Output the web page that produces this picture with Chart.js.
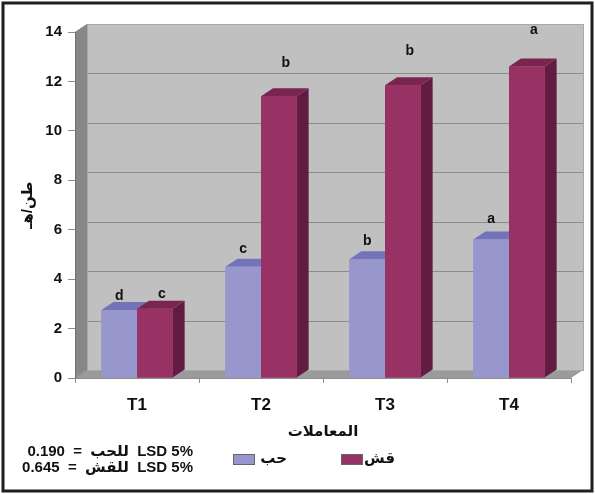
<!DOCTYPE html>
<html>
<head>
<meta charset="utf-8">
<script src="https://cdn.jsdelivr.net/npm/chart.js"></script>
<style>
  html, body { margin: 0; padding: 0; background: #fff; }
  #wrap { width: 595px; height: 494px; }
</style>
</head>
<body>
<div id="wrap"><canvas id="chart" width="595" height="494"></canvas></div>
<script>
// data
const categories = ["T1", "T2", "T3", "T4"];
const seriesNames = ["حب", "قش"];
const grainValues = [2.75, 4.5, 4.8, 5.6];
const strawValues = [2.8, 11.4, 11.85, 12.6];
const grainLetters = ["d", "c", "b", "a"];
const strawLetters = ["c", "b", "b", "a"];
const yMin = 0, yMax = 14, yStep = 2;
const yTitle = "طن/هـ";
const xTitle = "المعاملات";
const lsdLines = ["LSD 5%  للحب  =  0.190", "LSD 5%  للقش  =  0.645"];

// look
const FONT = "'Liberation Sans', Arial, 'DejaVu Sans', sans-serif";
const frontColors = ["#9797cd", "#993264"];
const topColors = ["#7373b9", "#7a2550"];
const sideColors = ["#5e5e9e", "#621c42"];
const DX = 12, DY = 8; // fake 3d depth

function poly(ctx, pts, fill) {
  ctx.beginPath();
  ctx.moveTo(pts[0][0], pts[0][1]);
  for (let i = 1; i < pts.length; i++) ctx.lineTo(pts[i][0], pts[i][1]);
  ctx.closePath();
  ctx.fillStyle = fill;
  ctx.fill();
}

function line(ctx, x1, y1, x2, y2) {
  ctx.beginPath();
  ctx.moveTo(x1, y1);
  ctx.lineTo(x2, y2);
  ctx.stroke();
}

// walls + floor, drawn before the scales
const wallsPlugin = {
  id: "walls",
  beforeDraw(chart) {
    const { ctx, chartArea: a, scales: { y } } = chart;
    ctx.save();
    poly(ctx, [[a.left, a.top], [a.left + DX, a.top - DY], [a.left + DX, a.bottom - DY], [a.left, a.bottom]], "#878787");
    ctx.fillStyle = "#c0c0c0";
    ctx.fillRect(a.left + DX, a.top - DY, a.right - a.left, a.bottom - a.top);
    poly(ctx, [[a.left, a.bottom], [a.left + DX, a.bottom - DY], [a.right + DX, a.bottom - DY], [a.right, a.bottom]], "#9b9b9b");

    ctx.strokeStyle = "#8c8c8c";
    ctx.lineWidth = 1;
    y.ticks.forEach(t => {
      const py = Math.round(y.getPixelForValue(t.value)) + 0.5;
      line(ctx, a.left, py, a.left + DX, py - DY);
      if (t.value > yMin) line(ctx, a.left + DX, py - DY, a.right + DX, py - DY);
    });
    ctx.strokeStyle = "#a8a8a8";
    ctx.strokeRect(a.left + DX + 0.5, a.top - DY + 0.5, a.right - a.left, a.bottom - a.top);
    ctx.restore();
  }
};

// tops, sides, letters
const boxesPlugin = {
  id: "boxes",
  afterDatasetsDraw(chart) {
    const ctx = chart.ctx;
    const letters = [grainLetters, strawLetters];
    ctx.save();
    chart.data.datasets.forEach((ds, di) => {
      chart.getDatasetMeta(di).data.forEach(bar => {
        const { x, y, base, width } = bar.getProps(["x", "y", "base", "width"], true);
        const l = x - width / 2, r = x + width / 2;
        poly(ctx, [[r, y], [r + DX, y - DY], [r + DX, base - DY], [r, base]], sideColors[di]);
        poly(ctx, [[l, y], [r, y], [r + DX, y - DY], [l + DX, y - DY]], topColors[di]);
        bar.draw(ctx);
      });
    });
    ctx.fillStyle = "#111";
    ctx.font = "bold 14px " + FONT;
    ctx.textAlign = "center";
    ctx.textBaseline = "middle";
    chart.data.datasets.forEach((ds, di) => {
      chart.getDatasetMeta(di).data.forEach((bar, i) => {
        const { x, y, base } = bar.getProps(["x", "y", "base"], true);
        const gap = 8 + 0.09 * (base - y);
        ctx.fillText(letters[di][i], x + (di ? 7 : 0), y - gap);
      });
    });
    ctx.restore();
  }
};

// legend, LSD note, frame
const extrasPlugin = {
  id: "extras",
  afterDraw(chart) {
    const ctx = chart.ctx;
    ctx.save();
    // legend
    ctx.font = "bold 15px " + FONT;
    ctx.textBaseline = "middle";
    ctx.textAlign = "right";
    chart.data.datasets.forEach((ds, i) => {
      const bx = 233 + i * 108;
      ctx.fillStyle = ds.backgroundColor;
      ctx.fillRect(bx, 454, 22, 11);
      ctx.strokeStyle = "#666";
      ctx.lineWidth = 1;
      ctx.strokeRect(bx + 0.5, 454.5, 21, 10);
      ctx.fillStyle = "#111";
      ctx.fillText(ds.label, bx + 54, 459);
    });
    // LSD lines
    ctx.direction = "rtl";
    ctx.font = "bold 15px " + FONT;
    lsdLines.forEach((t, i) => ctx.fillText(t, 193, 452 + i * 16));
    ctx.direction = "ltr";
    // outer frame
    ctx.strokeStyle = "#1f1f1f";
    ctx.lineWidth = 3;
    ctx.strokeRect(3, 3, 589, 488);
    ctx.restore();
  }
};

new Chart(document.getElementById("chart"), {
  type: "bar",
  data: {
    labels: categories,
    datasets: [
      { label: seriesNames[0], data: grainValues, backgroundColor: frontColors[0] },
      { label: seriesNames[1], data: strawValues, backgroundColor: frontColors[1] }
    ]
  },
  options: {
    responsive: false,
    animation: false,
    layout: { padding: { left: 10, top: 32, right: 24, bottom: 50 } },
    datasets: { bar: { categoryPercentage: 0.575, barPercentage: 1, borderWidth: 0 } },
    plugins: { legend: { display: false }, tooltip: { enabled: false } },
    scales: {
      x: {
        afterFit(s) { s.height = 66; },
        grid: { drawOnChartArea: false, drawTicks: true, tickLength: 5, color: "#8c8c8c" },
        border: { display: true, color: "#8c8c8c" },
        ticks: { color: "#111", padding: 12, font: { family: FONT, size: 17, weight: "bold" } },
        title: { display: true, text: xTitle, color: "#111", padding: { top: 0, bottom: 3 }, font: { family: FONT, size: 15, weight: "bold" } }
      },
      y: {
        min: yMin,
        max: yMax,
        afterFit(s) { s.width = 65; },
        grid: { drawOnChartArea: false, drawTicks: true, tickLength: 7, color: "#8c8c8c" },
        border: { display: true, color: "#707070" },
        ticks: { stepSize: yStep, color: "#111", padding: 6, font: { family: FONT, size: 15, weight: "bold" } },
        title: { display: true, text: yTitle, color: "#111", padding: { top: 9, bottom: 0 }, font: { family: FONT, size: 15, weight: "bold" } }
      }
    }
  },
  plugins: [wallsPlugin, boxesPlugin, extrasPlugin]
});
</script>
</body>
</html>
